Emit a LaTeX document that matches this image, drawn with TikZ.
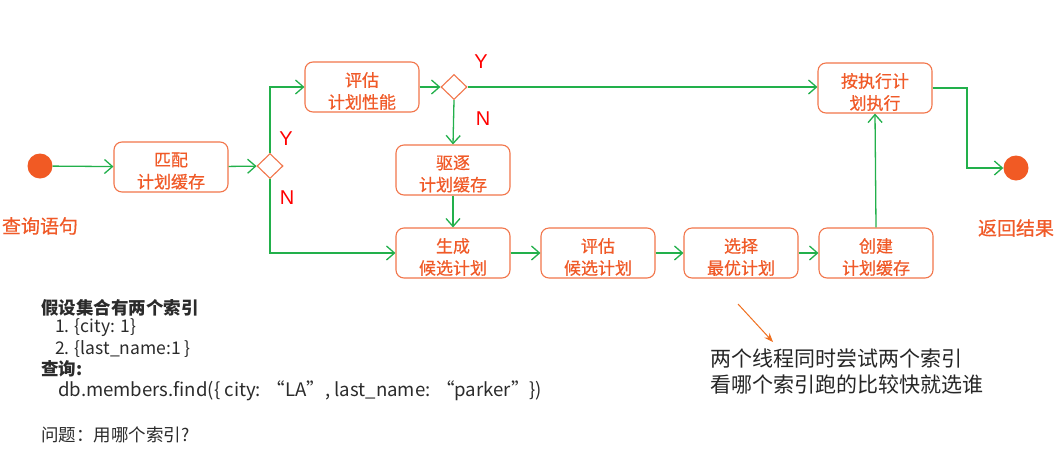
\documentclass[tikz,border=0pt]{standalone}
\usepackage{fontspec}
\setmainfont{Noto Sans CJK SC}
\newfontfamily\ynfont{Liberation Sans}
\newfontfamily\boxfont{Noto Sans CJK SC}[FakeBold=0.5]
\usetikzlibrary{shapes.geometric,arrows.meta,calc}
\definecolor{boxline}{HTML}{F2764B}
\definecolor{boxtxt}{HTML}{F05A28}
\definecolor{dot}{HTML}{F15A24}
\definecolor{flow}{HTML}{22B04B}
\definecolor{note}{HTML}{2B2B2B}
\definecolor{hint}{HTML}{F07020}
\begin{document}
\begin{tikzpicture}[x=1pt,y=-1pt,
  box/.style={draw=boxline,line width=1.1pt,rounded corners=8pt,fill=white,minimum width=114pt,minimum height=50pt,inner sep=0pt},
  boxtext/.style={text=boxtxt,font=\boxfont\fontsize{17}{22}\selectfont,align=center,inner sep=0pt},
  dec/.style={draw=boxline,line width=1.1pt,fill=white,diamond,minimum width=26pt,minimum height=25pt,inner sep=0pt},
  dotn/.style={circle,fill=dot,minimum size=25pt,inner sep=0pt},
  flowline/.style={draw=flow,line width=1.3pt,-{Straight Barb[length=8pt,width=14pt,line width=1.3pt]}},
  yn/.style={text=red,font=\ynfont\fontsize{20}{20}\selectfont,inner sep=0pt},
  endlbl/.style={text=boxtxt,font=\boxfont\fontsize{19}{22}\selectfont,inner sep=0pt},
  notetxt/.style={text=note,font=\fontsize{17.5}{21}\selectfont,inner sep=0pt,anchor=west},
  hinttxt/.style={text=black!85,font=\fontsize{21}{26}\selectfont,inner sep=0pt,anchor=west}]
\useasboundingbox (0,0) rectangle (1059,464);
\fill[white] (0,0) rectangle (1059,464);

% start / end
\node[dotn] (s) at (40,166) {};
\node[endlbl] (sl) at (40,226) {查询语句};
\node[dotn] (e) at (1016,168) {};
\node[endlbl] (el) at (1016,228) {返回结果};

% boxes
\node[box] (m) at (171,167) {};
\node[boxtext] (mt) at ([yshift=-4pt]m.center) {匹配\\计划缓存};
\node[dec] (d1) at (270,166) {};
\node[box] (e1) at (362,87) {};
\node[boxtext] (e1t) at ([yshift=-4pt]e1.center) {评估\\计划性能};
\node[dec] (d2) at (454,87) {};
\node[box] (q) at (453,170) {};
\node[boxtext] (qt) at ([yshift=-4pt]q.center) {驱逐\\计划缓存};
\node[box] (g) at (453,253) {};
\node[boxtext] (gt) at ([yshift=-4pt]g.center) {生成\\候选计划};
\node[box] (p) at (598,253) {};
\node[boxtext] (pt) at ([yshift=-4pt]p.center) {评估\\候选计划};
\node[box] (c) at (741,253) {};
\node[boxtext] (ct) at ([yshift=-4pt]c.center) {选择\\最优计划};
\node[box] (b) at (876,253) {};
\node[boxtext] (bt) at ([yshift=-4pt]b.center) {创建\\计划缓存};
\node[box] (x) at (875,88) {};
\node[boxtext] (xt) at ([yshift=-4pt]x.center) {按执行计\\划执行};

% Y/N labels
\node[yn] (y1) at (286,139) {Y};
\node[yn] (n1) at (287,198) {N};
\node[yn] (y2) at (481,62) {Y};
\node[yn] (n2) at (483,119) {N};

% connectors
\draw[flowline] (s) -- (m);
\draw[flowline] (m) -- (d1);
\draw[flowline] (d1.north) |- (e1.west);
\draw[flowline] (d1.south) |- (g.west);
\draw[flowline] (e1) -- (d2);
\draw[flowline] (d2.east) -- (d2.east -| x.west);
\draw[flowline] (d2.south) -- (q.north);
\draw[flowline] (q.south) -- (g.north);
\draw[flowline] (g) -- (p);
\draw[flowline] (p) -- (c);
\draw[flowline] (c) -- (b);
\draw[flowline] (b.north) -- (x.south);
\coordinate (t) at (967,88);
\draw[flowline] (x.east) -- (t) |- (e.west);

% notes
\node[notetxt] (n0) at (41,308) {\bfseries 假设集合有两个索引};
\node[notetxt] (n1a) at (55,328) {1. \{city: 1\}};
\node[notetxt] (n2a) at (55,349) {2. \{last\_name:1 \}};
\node[notetxt] (n3) at (41,369) {\bfseries 查询:};
\node[notetxt,font=\fontsize{18.6}{21}\selectfont] (n4) at (58,391) {db.members.find(\{ city: “LA”, last\_name: “parker”\})};
\node[notetxt] (n5) at (41,435) {问题：用哪个索引?};

\coordinate (ha) at (738,304);
\node[hinttxt] (h1) at (710,359) {两个线程同时尝试两个索引};
\node[hinttxt] (h2) at (710,385) {看哪个索引跑的比较快就选谁};
\draw[hint,line width=1pt,-{Stealth[length=9pt,width=7pt]}] (ha) -- (773,342);
\end{tikzpicture}
\end{document}
